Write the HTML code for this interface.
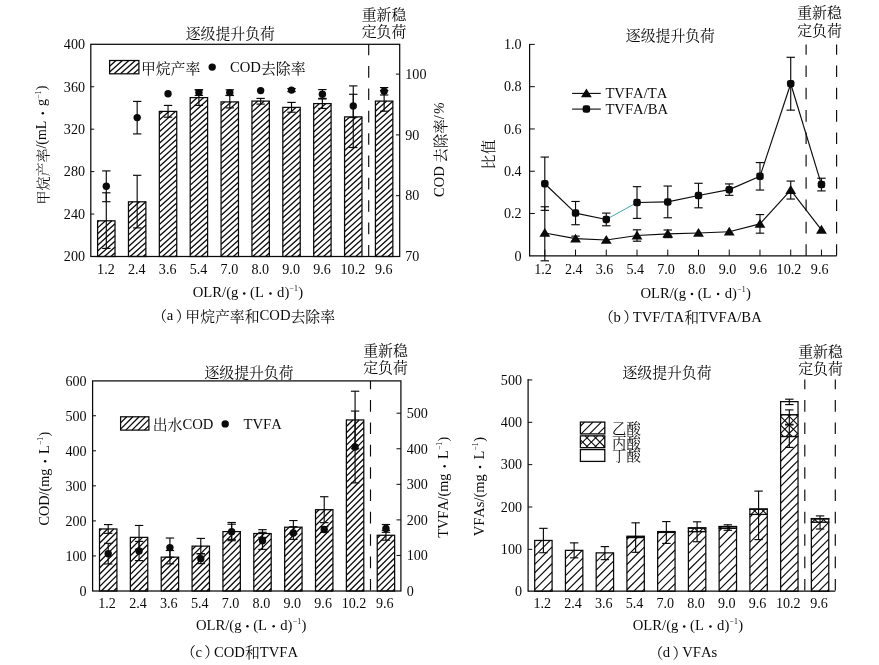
<!DOCTYPE html>
<html><head><meta charset="utf-8"><title>figure</title>
<style>html,body{margin:0;padding:0;background:#fff;overflow:hidden}svg{display:block;opacity:0.9999;will-change:opacity}text{font-family:"Liberation Serif","Noto Serif CJK SC",serif;font-kerning:none;font-variant-ligatures:none;fill:#0a0a0a;stroke:none;white-space:pre}</style>
</head><body>
<svg width="879" height="665" viewBox="0 0 879 665" stroke="#0a0a0a" fill="none" stroke-linecap="butt">
<rect x="97.6" y="220.8" width="17.4" height="35.7" fill="#fff" stroke="none"/>
<path d="M97.6 222.06L99 220.8M97.6 227.86L105.44 220.8M97.6 233.66L111.89 220.8M97.6 239.46L115 223.8M97.6 245.26L115 229.6M97.6 251.06L115 235.4M98 256.5L115 241.2M104.44 256.5L115 247M110.89 256.5L115 252.8" stroke-width="1.3"/>
<rect x="97.6" y="220.8" width="17.4" height="35.7" stroke-width="1.25"/>
<rect x="128.47" y="201.8" width="17.4" height="54.7" fill="#fff" stroke="none"/>
<path d="M128.47 205.88L133 201.8M128.47 211.68L139.44 201.8M128.47 217.48L145.87 201.82M128.47 223.28L145.87 207.62M128.47 229.08L145.87 213.42M128.47 234.88L145.87 219.22M128.47 240.68L145.87 225.02M128.47 246.48L145.87 230.82M128.47 252.28L145.87 236.62M130.22 256.5L145.87 242.42M136.67 256.5L145.87 248.22M143.11 256.5L145.87 254.02" stroke-width="1.3"/>
<rect x="128.47" y="201.8" width="17.4" height="54.7" stroke-width="1.25"/>
<rect x="159.34" y="111.4" width="17.4" height="145.1" fill="#fff" stroke="none"/>
<path d="M159.34 114.29L162.56 111.4M159.34 120.09L169 111.4M159.34 125.89L175.44 111.4M159.34 131.69L176.74 116.03M159.34 137.49L176.74 121.83M159.34 143.29L176.74 127.63M159.34 149.09L176.74 133.43M159.34 154.89L176.74 139.23M159.34 160.69L176.74 145.03M159.34 166.49L176.74 150.83M159.34 172.29L176.74 156.63M159.34 178.09L176.74 162.43M159.34 183.89L176.74 168.23M159.34 189.69L176.74 174.03M159.34 195.49L176.74 179.83M159.34 201.29L176.74 185.63M159.34 207.09L176.74 191.43M159.34 212.89L176.74 197.23M159.34 218.69L176.74 203.03M159.34 224.49L176.74 208.83M159.34 230.29L176.74 214.63M159.34 236.09L176.74 220.43M159.34 241.89L176.74 226.23M159.34 247.69L176.74 232.03M159.34 253.49L176.74 237.83M162.44 256.5L176.74 243.63M168.89 256.5L176.74 249.43M175.33 256.5L176.74 255.23" stroke-width="1.3"/>
<rect x="159.34" y="111.4" width="17.4" height="145.1" stroke-width="1.25"/>
<rect x="190.21" y="97.6" width="17.4" height="158.9" fill="#fff" stroke="none"/>
<path d="M190.21 98.11L190.78 97.6M190.21 103.91L197.22 97.6M190.21 109.71L203.67 97.6M190.21 115.51L207.61 99.85M190.21 121.31L207.61 105.65M190.21 127.11L207.61 111.45M190.21 132.91L207.61 117.25M190.21 138.71L207.61 123.05M190.21 144.51L207.61 128.85M190.21 150.31L207.61 134.65M190.21 156.11L207.61 140.45M190.21 161.91L207.61 146.25M190.21 167.71L207.61 152.05M190.21 173.51L207.61 157.85M190.21 179.31L207.61 163.65M190.21 185.11L207.61 169.45M190.21 190.91L207.61 175.25M190.21 196.71L207.61 181.05M190.21 202.51L207.61 186.85M190.21 208.31L207.61 192.65M190.21 214.11L207.61 198.45M190.21 219.91L207.61 204.25M190.21 225.71L207.61 210.05M190.21 231.51L207.61 215.85M190.21 237.31L207.61 221.65M190.21 243.11L207.61 227.45M190.21 248.91L207.61 233.25M190.21 254.71L207.61 239.05M194.67 256.5L207.61 244.85M201.11 256.5L207.61 250.65" stroke-width="1.3"/>
<rect x="190.21" y="97.6" width="17.4" height="158.9" stroke-width="1.25"/>
<rect x="221.08" y="101.9" width="17.4" height="154.6" fill="#fff" stroke="none"/>
<path d="M221.08 105.13L224.67 101.9M221.08 110.93L231.11 101.9M221.08 116.73L237.56 101.9M221.08 122.53L238.48 106.87M221.08 128.33L238.48 112.67M221.08 134.13L238.48 118.47M221.08 139.93L238.48 124.27M221.08 145.73L238.48 130.07M221.08 151.53L238.48 135.87M221.08 157.33L238.48 141.67M221.08 163.13L238.48 147.47M221.08 168.93L238.48 153.27M221.08 174.73L238.48 159.07M221.08 180.53L238.48 164.87M221.08 186.33L238.48 170.67M221.08 192.13L238.48 176.47M221.08 197.93L238.48 182.27M221.08 203.73L238.48 188.07M221.08 209.53L238.48 193.87M221.08 215.33L238.48 199.67M221.08 221.13L238.48 205.47M221.08 226.93L238.48 211.27M221.08 232.73L238.48 217.07M221.08 238.53L238.48 222.87M221.08 244.33L238.48 228.67M221.08 250.13L238.48 234.47M221.08 255.93L238.48 240.27M226.89 256.5L238.48 246.07M233.33 256.5L238.48 251.87" stroke-width="1.3"/>
<rect x="221.08" y="101.9" width="17.4" height="154.6" stroke-width="1.25"/>
<rect x="251.95" y="101.1" width="17.4" height="155.4" fill="#fff" stroke="none"/>
<path d="M251.95 106.34L257.78 101.1M251.95 112.14L264.22 101.1M251.95 117.94L269.35 102.29M251.95 123.75L269.35 108.09M251.95 129.55L269.35 113.89M251.95 135.34L269.35 119.69M251.95 141.14L269.35 125.49M251.95 146.94L269.35 131.29M251.95 152.75L269.35 137.09M251.95 158.54L269.35 142.88M251.95 164.34L269.35 148.69M251.95 170.14L269.35 154.49M251.95 175.94L269.35 160.29M251.95 181.75L269.35 166.09M251.95 187.54L269.35 171.88M251.95 193.34L269.35 177.69M251.95 199.14L269.35 183.49M251.95 204.94L269.35 189.29M251.95 210.75L269.35 195.09M251.95 216.54L269.35 200.88M251.95 222.35L269.35 206.69M251.95 228.14L269.35 212.49M251.95 233.94L269.35 218.29M251.95 239.75L269.35 224.09M251.95 245.54L269.35 229.88M251.95 251.35L269.35 235.69M252.67 256.5L269.35 241.49M259.11 256.5L269.35 247.29M265.56 256.5L269.35 253.09" stroke-width="1.3"/>
<rect x="251.95" y="101.1" width="17.4" height="155.4" stroke-width="1.25"/>
<rect x="282.82" y="107.4" width="17.4" height="149.1" fill="#fff" stroke="none"/>
<path d="M282.82 107.56L283 107.4M282.82 113.36L289.44 107.4M282.82 119.16L295.89 107.4M282.82 124.96L300.22 109.3M282.82 130.76L300.22 115.1M282.82 136.56L300.22 120.9M282.82 142.36L300.22 126.7M282.82 148.16L300.22 132.5M282.82 153.96L300.22 138.3M282.82 159.76L300.22 144.1M282.82 165.56L300.22 149.9M282.82 171.36L300.22 155.7M282.82 177.16L300.22 161.5M282.82 182.96L300.22 167.3M282.82 188.76L300.22 173.1M282.82 194.56L300.22 178.9M282.82 200.36L300.22 184.7M282.82 206.16L300.22 190.5M282.82 211.96L300.22 196.3M282.82 217.76L300.22 202.1M282.82 223.56L300.22 207.9M282.82 229.36L300.22 213.7M282.82 235.16L300.22 219.5M282.82 240.96L300.22 225.3M282.82 246.76L300.22 231.1M282.82 252.56L300.22 236.9M284.89 256.5L300.22 242.7M291.33 256.5L300.22 248.5M297.78 256.5L300.22 254.3" stroke-width="1.3"/>
<rect x="282.82" y="107.4" width="17.4" height="149.1" stroke-width="1.25"/>
<rect x="313.69" y="103.6" width="17.4" height="152.9" fill="#fff" stroke="none"/>
<path d="M313.69 108.78L319.44 103.6M313.69 114.58L325.89 103.6M313.69 120.38L331.09 104.72M313.69 126.18L331.09 110.52M313.69 131.98L331.09 116.32M313.69 137.78L331.09 122.12M313.69 143.58L331.09 127.92M313.69 149.38L331.09 133.72M313.69 155.18L331.09 139.52M313.69 160.98L331.09 145.32M313.69 166.78L331.09 151.12M313.69 172.58L331.09 156.92M313.69 178.38L331.09 162.72M313.69 184.18L331.09 168.52M313.69 189.98L331.09 174.32M313.69 195.78L331.09 180.12M313.69 201.58L331.09 185.92M313.69 207.38L331.09 191.72M313.69 213.18L331.09 197.52M313.69 218.98L331.09 203.32M313.69 224.78L331.09 209.12M313.69 230.58L331.09 214.92M313.69 236.38L331.09 220.72M313.69 242.18L331.09 226.52M313.69 247.98L331.09 232.32M313.69 253.78L331.09 238.12M317.11 256.5L331.09 243.92M323.56 256.5L331.09 249.72M330 256.5L331.09 255.52" stroke-width="1.3"/>
<rect x="313.69" y="103.6" width="17.4" height="152.9" stroke-width="1.25"/>
<rect x="344.56" y="116.9" width="17.4" height="139.6" fill="#fff" stroke="none"/>
<path d="M344.56 121.6L349.78 116.9M344.56 127.4L356.22 116.9M344.56 133.2L361.96 117.54M344.56 139L361.96 123.34M344.56 144.8L361.96 129.14M344.56 150.6L361.96 134.94M344.56 156.4L361.96 140.74M344.56 162.2L361.96 146.54M344.56 168L361.96 152.34M344.56 173.8L361.96 158.14M344.56 179.6L361.96 163.94M344.56 185.4L361.96 169.74M344.56 191.2L361.96 175.54M344.56 197L361.96 181.34M344.56 202.8L361.96 187.14M344.56 208.6L361.96 192.94M344.56 214.4L361.96 198.74M344.56 220.2L361.96 204.54M344.56 226L361.96 210.34M344.56 231.8L361.96 216.14M344.56 237.6L361.96 221.94M344.56 243.4L361.96 227.74M344.56 249.2L361.96 233.54M344.56 255L361.96 239.34M349.33 256.5L361.96 245.14M355.78 256.5L361.96 250.94" stroke-width="1.3"/>
<rect x="344.56" y="116.9" width="17.4" height="139.6" stroke-width="1.25"/>
<rect x="375.43" y="101.1" width="17.4" height="155.4" fill="#fff" stroke="none"/>
<path d="M375.43 105.41L380.22 101.1M375.43 111.21L386.67 101.1M375.43 117.01L392.83 101.35M375.43 122.81L392.83 107.15M375.43 128.61L392.83 112.95M375.43 134.41L392.83 118.75M375.43 140.21L392.83 124.55M375.43 146.01L392.83 130.35M375.43 151.81L392.83 136.15M375.43 157.61L392.83 141.95M375.43 163.41L392.83 147.75M375.43 169.21L392.83 153.55M375.43 175.01L392.83 159.35M375.43 180.81L392.83 165.15M375.43 186.61L392.83 170.95M375.43 192.41L392.83 176.75M375.43 198.21L392.83 182.55M375.43 204.01L392.83 188.35M375.43 209.81L392.83 194.15M375.43 215.61L392.83 199.95M375.43 221.41L392.83 205.75M375.43 227.21L392.83 211.55M375.43 233.01L392.83 217.35M375.43 238.81L392.83 223.15M375.43 244.61L392.83 228.95M375.43 250.41L392.83 234.75M375.43 256.21L392.83 240.55M381.56 256.5L392.83 246.35M388 256.5L392.83 252.15" stroke-width="1.3"/>
<rect x="375.43" y="101.1" width="17.4" height="155.4" stroke-width="1.25"/>
<line x1="106.3" y1="192.8" x2="106.3" y2="248.4" stroke-width="1.15"/>
<line x1="102.1" y1="192.8" x2="110.5" y2="192.8" stroke-width="1.15"/>
<line x1="102.1" y1="248.4" x2="110.5" y2="248.4" stroke-width="1.15"/>
<line x1="137.17" y1="175.3" x2="137.17" y2="227.9" stroke-width="1.15"/>
<line x1="132.97" y1="175.3" x2="141.37" y2="175.3" stroke-width="1.15"/>
<line x1="132.97" y1="227.9" x2="141.37" y2="227.9" stroke-width="1.15"/>
<line x1="168.04" y1="105.4" x2="168.04" y2="117.2" stroke-width="1.15"/>
<line x1="163.84" y1="105.4" x2="172.24" y2="105.4" stroke-width="1.15"/>
<line x1="163.84" y1="117.2" x2="172.24" y2="117.2" stroke-width="1.15"/>
<line x1="198.91" y1="89.9" x2="198.91" y2="105.4" stroke-width="1.15"/>
<line x1="194.71" y1="89.9" x2="203.11" y2="89.9" stroke-width="1.15"/>
<line x1="194.71" y1="105.4" x2="203.11" y2="105.4" stroke-width="1.15"/>
<line x1="229.78" y1="95.5" x2="229.78" y2="107.9" stroke-width="1.15"/>
<line x1="225.58" y1="95.5" x2="233.98" y2="95.5" stroke-width="1.15"/>
<line x1="225.58" y1="107.9" x2="233.98" y2="107.9" stroke-width="1.15"/>
<line x1="260.65" y1="98.4" x2="260.65" y2="104.1" stroke-width="1.15"/>
<line x1="256.45" y1="98.4" x2="264.85" y2="98.4" stroke-width="1.15"/>
<line x1="256.45" y1="104.1" x2="264.85" y2="104.1" stroke-width="1.15"/>
<line x1="291.52" y1="102.4" x2="291.52" y2="112.2" stroke-width="1.15"/>
<line x1="287.32" y1="102.4" x2="295.72" y2="102.4" stroke-width="1.15"/>
<line x1="287.32" y1="112.2" x2="295.72" y2="112.2" stroke-width="1.15"/>
<line x1="322.39" y1="98.4" x2="322.39" y2="108.4" stroke-width="1.15"/>
<line x1="318.19" y1="98.4" x2="326.59" y2="98.4" stroke-width="1.15"/>
<line x1="318.19" y1="108.4" x2="326.59" y2="108.4" stroke-width="1.15"/>
<line x1="353.26" y1="85.9" x2="353.26" y2="147.5" stroke-width="1.15"/>
<line x1="349.06" y1="85.9" x2="357.46" y2="85.9" stroke-width="1.15"/>
<line x1="349.06" y1="147.5" x2="357.46" y2="147.5" stroke-width="1.15"/>
<line x1="384.13" y1="90.6" x2="384.13" y2="111.2" stroke-width="1.15"/>
<line x1="379.93" y1="90.6" x2="388.33" y2="90.6" stroke-width="1.15"/>
<line x1="379.93" y1="111.2" x2="388.33" y2="111.2" stroke-width="1.15"/>
<line x1="106.3" y1="170.9" x2="106.3" y2="201.7" stroke-width="1.15"/>
<line x1="102.1" y1="170.9" x2="110.5" y2="170.9" stroke-width="1.15"/>
<line x1="102.1" y1="201.7" x2="110.5" y2="201.7" stroke-width="1.15"/>
<circle cx="106.3" cy="186.3" r="3.7" fill="#0a0a0a" stroke="none"/>
<line x1="137.17" y1="101.4" x2="137.17" y2="133.9" stroke-width="1.15"/>
<line x1="132.97" y1="101.4" x2="141.37" y2="101.4" stroke-width="1.15"/>
<line x1="132.97" y1="133.9" x2="141.37" y2="133.9" stroke-width="1.15"/>
<circle cx="137.17" cy="117.6" r="3.7" fill="#0a0a0a" stroke="none"/>
<circle cx="168.04" cy="93.8" r="3.7" fill="#0a0a0a" stroke="none"/>
<line x1="198.91" y1="89.8" x2="198.91" y2="95.4" stroke-width="1.15"/>
<line x1="194.71" y1="89.8" x2="203.11" y2="89.8" stroke-width="1.15"/>
<line x1="194.71" y1="95.4" x2="203.11" y2="95.4" stroke-width="1.15"/>
<circle cx="198.91" cy="92.6" r="3.7" fill="#0a0a0a" stroke="none"/>
<line x1="229.78" y1="89.8" x2="229.78" y2="95.4" stroke-width="1.15"/>
<line x1="225.58" y1="89.8" x2="233.98" y2="89.8" stroke-width="1.15"/>
<line x1="225.58" y1="95.4" x2="233.98" y2="95.4" stroke-width="1.15"/>
<circle cx="229.78" cy="92.6" r="3.7" fill="#0a0a0a" stroke="none"/>
<circle cx="260.65" cy="90.6" r="3.7" fill="#0a0a0a" stroke="none"/>
<line x1="291.52" y1="88.6" x2="291.52" y2="91.6" stroke-width="1.15"/>
<line x1="287.32" y1="88.6" x2="295.72" y2="88.6" stroke-width="1.15"/>
<line x1="287.32" y1="91.6" x2="295.72" y2="91.6" stroke-width="1.15"/>
<circle cx="291.52" cy="90.1" r="3.7" fill="#0a0a0a" stroke="none"/>
<line x1="322.39" y1="89.6" x2="322.39" y2="99" stroke-width="1.15"/>
<line x1="318.19" y1="89.6" x2="326.59" y2="89.6" stroke-width="1.15"/>
<line x1="318.19" y1="99" x2="326.59" y2="99" stroke-width="1.15"/>
<circle cx="322.39" cy="94.3" r="3.7" fill="#0a0a0a" stroke="none"/>
<line x1="353.26" y1="94.3" x2="353.26" y2="117.5" stroke-width="1.15"/>
<line x1="349.06" y1="94.3" x2="357.46" y2="94.3" stroke-width="1.15"/>
<line x1="349.06" y1="117.5" x2="357.46" y2="117.5" stroke-width="1.15"/>
<circle cx="353.26" cy="105.9" r="3.7" fill="#0a0a0a" stroke="none"/>
<line x1="384.13" y1="87.6" x2="384.13" y2="95" stroke-width="1.15"/>
<line x1="379.93" y1="87.6" x2="388.33" y2="87.6" stroke-width="1.15"/>
<line x1="379.93" y1="95" x2="388.33" y2="95" stroke-width="1.15"/>
<circle cx="384.13" cy="91.3" r="3.7" fill="#0a0a0a" stroke="none"/>
<line x1="368.7" y1="256.5" x2="368.7" y2="44.3" stroke-width="1.15" stroke-dasharray="11.6 10.75" stroke-dashoffset="0"/>
<rect x="90.8" y="44.3" width="308.9" height="212.2" fill="none" stroke-width="1.25"/>
<g transform="translate(85,261.3)">
<text x="-21.15" y="0" font-size="14.1">200</text>
</g>
<line x1="90.8" y1="214.06" x2="94.2" y2="214.06" stroke-width="1"/>
<g transform="translate(85,218.86)">
<text x="-21.15" y="0" font-size="14.1">240</text>
</g>
<line x1="90.8" y1="171.62" x2="94.2" y2="171.62" stroke-width="1"/>
<g transform="translate(85,176.42)">
<text x="-21.15" y="0" font-size="14.1">280</text>
</g>
<line x1="90.8" y1="129.18" x2="94.2" y2="129.18" stroke-width="1"/>
<g transform="translate(85,133.98)">
<text x="-21.15" y="0" font-size="14.1">320</text>
</g>
<line x1="90.8" y1="86.74" x2="94.2" y2="86.74" stroke-width="1"/>
<g transform="translate(85,91.54)">
<text x="-21.15" y="0" font-size="14.1">360</text>
</g>
<g transform="translate(85,49.1)">
<text x="-21.15" y="0" font-size="14.1">400</text>
</g>
<g transform="translate(405.3,261.2)">
<text x="0" y="0" font-size="14.1">70</text>
</g>
<line x1="395.9" y1="195.7" x2="399.7" y2="195.7" stroke-width="1"/>
<g transform="translate(405.3,200.4)">
<text x="0" y="0" font-size="14.1">80</text>
</g>
<line x1="395.9" y1="134.9" x2="399.7" y2="134.9" stroke-width="1"/>
<g transform="translate(405.3,139.6)">
<text x="0" y="0" font-size="14.1">90</text>
</g>
<line x1="395.9" y1="74.1" x2="399.7" y2="74.1" stroke-width="1"/>
<g transform="translate(405.3,78.8)">
<text x="0" y="0" font-size="14.1">100</text>
</g>
<g transform="translate(105.9,274)">
<text x="-8.81" y="0" font-size="14.1">1.2</text>
</g>
<g transform="translate(136.77,274)">
<text x="-8.81" y="0" font-size="14.1">2.4</text>
</g>
<g transform="translate(167.64,274)">
<text x="-8.81" y="0" font-size="14.1">3.6</text>
</g>
<g transform="translate(198.51,274)">
<text x="-8.81" y="0" font-size="14.1">5.4</text>
</g>
<g transform="translate(229.38,274)">
<text x="-8.81" y="0" font-size="14.1">7.0</text>
</g>
<g transform="translate(260.25,274)">
<text x="-8.81" y="0" font-size="14.1">8.0</text>
</g>
<g transform="translate(291.12,274)">
<text x="-8.81" y="0" font-size="14.1">9.0</text>
</g>
<g transform="translate(321.99,274)">
<text x="-8.81" y="0" font-size="14.1">9.6</text>
</g>
<g transform="translate(352.86,274)">
<text x="-12.34" y="0" font-size="14.1">10.2</text>
</g>
<g transform="translate(383.73,274)">
<text x="-8.81" y="0" font-size="14.1">9.6</text>
</g>
<g transform="translate(248,297)">
<text x="-55.23" y="0" font-size="14.67">OLR/(g</text>
<circle cx="-3.79" cy="-3.45" r="1.25" fill="#0a0a0a" stroke="none"/>
<text x="2.01" y="0" font-size="14.67">(L</text>
<circle cx="22.45" cy="-3.45" r="1.25" fill="#0a0a0a" stroke="none"/>
<text x="29.05" y="0" font-size="14.67">d)</text>
<text x="41.57" y="-5.87" font-size="7.78">−1</text>
<text x="50.34" y="0" font-size="14.67">)</text>
</g>
<g transform="translate(152.3,320.4)">
<text x="0" y="1.49" font-size="14.85">（</text>
<text x="14.45" y="0" font-size="14.67">a</text>
<text x="23.36" y="1.49" font-size="14.85">）</text>
<text x="33.01" y="1.49" font-size="14.85">甲烷产率和</text>
<text x="107.26" y="0" font-size="14.67">COD</text>
<text x="138.23" y="1.49" font-size="14.85">去除率</text>
</g>
<g transform="translate(230.3,37.4)">
<text x="-44.55" y="1.49" font-size="14.85">逐级提升负荷</text>
</g>
<g transform="translate(384,18.2)">
<text x="-22.27" y="1.49" font-size="14.85">重新稳</text>
</g>
<g transform="translate(384,35)">
<text x="-22.27" y="1.49" font-size="14.85">定负荷</text>
</g>
<rect x="109.6" y="60.5" width="29.3" height="13.3" fill="#fff" stroke="none"/>
<path d="M109.6 66.26L116 60.5M109.6 72.06L122.44 60.5M114.11 73.8L128.89 60.5M120.56 73.8L135.33 60.5M127 73.8L138.9 63.09M133.44 73.8L138.9 68.89" stroke-width="1.3"/>
<rect x="109.6" y="60.5" width="29.3" height="13.3" stroke-width="1.25"/>
<g transform="translate(140.9,72)">
<text x="0" y="1.49" font-size="14.85">甲烷产率</text>
</g>
<circle cx="212.2" cy="67.1" r="3.7" fill="#0a0a0a" stroke="none"/>
<g transform="translate(230,72)">
<text x="0" y="0" font-size="14.67">COD</text>
<text x="30.97" y="1.49" font-size="14.85">去除率</text>
</g>
<g transform="translate(46.1,145.1) rotate(-90)">
<text x="-59.47" y="1.4" font-size="14">甲烷产率</text>
<text x="-3.47" y="0" font-size="14">/(mL</text>
<circle cx="31.82" cy="-3.29" r="1.25" fill="#0a0a0a" stroke="none"/>
<text x="39.12" y="0" font-size="14">g</text>
<text x="46.42" y="-5.6" font-size="7.42">−1</text>
<text x="54.81" y="0" font-size="14">)</text>
</g>
<g transform="translate(444.3,149.6) rotate(-90)">
<text x="-47.32" y="0" font-size="14.5">COD </text>
<text x="-13.08" y="1.45" font-size="14.5">去除率</text>
<text x="30.42" y="0" font-size="14.5">/</text>
<text x="35.24" y="0" font-size="14.5" font-style="italic">%</text>
</g>
<line x1="544.8" y1="183.71" x2="575.54" y2="213.1" stroke-width="1.15"/>
<line x1="575.54" y1="213.1" x2="606.28" y2="219.44" stroke-width="1.15"/>
<line x1="606.28" y1="219.44" x2="637.02" y2="202.53" stroke-width="0.95" stroke="#38a5a3"/>
<line x1="637.02" y1="202.53" x2="667.76" y2="201.89" stroke-width="1.15"/>
<line x1="667.76" y1="201.89" x2="698.5" y2="195.55" stroke-width="1.15"/>
<line x1="698.5" y1="195.55" x2="729.24" y2="189.63" stroke-width="1.15"/>
<line x1="729.24" y1="189.63" x2="759.98" y2="176.31" stroke-width="1.15"/>
<line x1="759.98" y1="176.31" x2="790.72" y2="83.72" stroke-width="1.15"/>
<line x1="790.72" y1="83.72" x2="821.46" y2="184.56" stroke-width="1.15"/>
<line x1="544.8" y1="232.97" x2="575.54" y2="238.68" stroke-width="1.15"/>
<line x1="575.54" y1="238.68" x2="606.28" y2="239.95" stroke-width="1.15"/>
<line x1="606.28" y1="239.95" x2="637.02" y2="235.51" stroke-width="1.15"/>
<line x1="637.02" y1="235.51" x2="667.76" y2="233.81" stroke-width="1.15"/>
<line x1="667.76" y1="233.81" x2="698.5" y2="232.97" stroke-width="1.15"/>
<line x1="698.5" y1="232.97" x2="729.24" y2="231.7" stroke-width="1.15"/>
<line x1="729.24" y1="231.7" x2="759.98" y2="223.88" stroke-width="1.15"/>
<line x1="759.98" y1="223.88" x2="790.72" y2="190.05" stroke-width="1.15"/>
<line x1="790.72" y1="190.05" x2="821.46" y2="229.8" stroke-width="1.15"/>
<line x1="544.8" y1="157.08" x2="544.8" y2="210.35" stroke-width="1.15"/>
<line x1="540.6" y1="157.08" x2="549" y2="157.08" stroke-width="1.15"/>
<line x1="540.6" y1="210.35" x2="549" y2="210.35" stroke-width="1.15"/>
<line x1="544.8" y1="206.76" x2="544.8" y2="260.8" stroke-width="1.15"/>
<line x1="540.6" y1="206.76" x2="549" y2="206.76" stroke-width="1.15"/>
<line x1="540.6" y1="260.8" x2="549" y2="260.8" stroke-width="1.15"/>
<line x1="575.54" y1="201.47" x2="575.54" y2="224.72" stroke-width="1.15"/>
<line x1="571.34" y1="201.47" x2="579.74" y2="201.47" stroke-width="1.15"/>
<line x1="571.34" y1="224.72" x2="579.74" y2="224.72" stroke-width="1.15"/>
<line x1="575.54" y1="236.14" x2="575.54" y2="241.21" stroke-width="1.15"/>
<line x1="571.34" y1="236.14" x2="579.74" y2="236.14" stroke-width="1.15"/>
<line x1="571.34" y1="241.21" x2="579.74" y2="241.21" stroke-width="1.15"/>
<line x1="606.28" y1="213.1" x2="606.28" y2="225.78" stroke-width="1.15"/>
<line x1="602.08" y1="213.1" x2="610.48" y2="213.1" stroke-width="1.15"/>
<line x1="602.08" y1="225.78" x2="610.48" y2="225.78" stroke-width="1.15"/>
<line x1="637.02" y1="186.67" x2="637.02" y2="218.38" stroke-width="1.15"/>
<line x1="632.82" y1="186.67" x2="641.22" y2="186.67" stroke-width="1.15"/>
<line x1="632.82" y1="218.38" x2="641.22" y2="218.38" stroke-width="1.15"/>
<line x1="637.02" y1="229.8" x2="637.02" y2="241.21" stroke-width="1.15"/>
<line x1="632.82" y1="229.8" x2="641.22" y2="229.8" stroke-width="1.15"/>
<line x1="632.82" y1="241.21" x2="641.22" y2="241.21" stroke-width="1.15"/>
<line x1="667.76" y1="186.04" x2="667.76" y2="217.75" stroke-width="1.15"/>
<line x1="663.56" y1="186.04" x2="671.96" y2="186.04" stroke-width="1.15"/>
<line x1="663.56" y1="217.75" x2="671.96" y2="217.75" stroke-width="1.15"/>
<line x1="667.76" y1="230.01" x2="667.76" y2="237.62" stroke-width="1.15"/>
<line x1="663.56" y1="230.01" x2="671.96" y2="230.01" stroke-width="1.15"/>
<line x1="663.56" y1="237.62" x2="671.96" y2="237.62" stroke-width="1.15"/>
<line x1="698.5" y1="183.29" x2="698.5" y2="207.81" stroke-width="1.15"/>
<line x1="694.3" y1="183.29" x2="702.7" y2="183.29" stroke-width="1.15"/>
<line x1="694.3" y1="207.81" x2="702.7" y2="207.81" stroke-width="1.15"/>
<line x1="729.24" y1="183.92" x2="729.24" y2="195.34" stroke-width="1.15"/>
<line x1="725.04" y1="183.92" x2="733.44" y2="183.92" stroke-width="1.15"/>
<line x1="725.04" y1="195.34" x2="733.44" y2="195.34" stroke-width="1.15"/>
<line x1="759.98" y1="162.57" x2="759.98" y2="190.05" stroke-width="1.15"/>
<line x1="755.78" y1="162.57" x2="764.18" y2="162.57" stroke-width="1.15"/>
<line x1="755.78" y1="190.05" x2="764.18" y2="190.05" stroke-width="1.15"/>
<line x1="759.98" y1="214.58" x2="759.98" y2="233.18" stroke-width="1.15"/>
<line x1="755.78" y1="214.58" x2="764.18" y2="214.58" stroke-width="1.15"/>
<line x1="755.78" y1="233.18" x2="764.18" y2="233.18" stroke-width="1.15"/>
<line x1="790.72" y1="57.3" x2="790.72" y2="110.15" stroke-width="1.15"/>
<line x1="786.52" y1="57.3" x2="794.92" y2="57.3" stroke-width="1.15"/>
<line x1="786.52" y1="110.15" x2="794.92" y2="110.15" stroke-width="1.15"/>
<line x1="790.72" y1="181.07" x2="790.72" y2="199.04" stroke-width="1.15"/>
<line x1="786.52" y1="181.07" x2="794.92" y2="181.07" stroke-width="1.15"/>
<line x1="786.52" y1="199.04" x2="794.92" y2="199.04" stroke-width="1.15"/>
<line x1="821.46" y1="178.22" x2="821.46" y2="190.9" stroke-width="1.15"/>
<line x1="817.26" y1="178.22" x2="825.66" y2="178.22" stroke-width="1.15"/>
<line x1="817.26" y1="190.9" x2="825.66" y2="190.9" stroke-width="1.15"/>
<rect x="541.05" y="179.96" width="7.5" height="7.5" rx="2.4" fill="#0a0a0a" stroke="none"/>
<path d="M544.8 227.97 L550.2 236.87 L539.4 236.87 Z" fill="#0a0a0a" stroke="none"/>
<rect x="571.79" y="209.35" width="7.5" height="7.5" rx="2.4" fill="#0a0a0a" stroke="none"/>
<path d="M575.54 233.68 L580.94 242.58 L570.14 242.58 Z" fill="#0a0a0a" stroke="none"/>
<rect x="602.53" y="215.69" width="7.5" height="7.5" rx="2.4" fill="#0a0a0a" stroke="none"/>
<path d="M606.28 234.95 L611.68 243.85 L600.88 243.85 Z" fill="#0a0a0a" stroke="none"/>
<rect x="633.27" y="198.78" width="7.5" height="7.5" rx="2.4" fill="#0a0a0a" stroke="none"/>
<path d="M637.02 230.51 L642.42 239.41 L631.62 239.41 Z" fill="#0a0a0a" stroke="none"/>
<rect x="664.01" y="198.14" width="7.5" height="7.5" rx="2.4" fill="#0a0a0a" stroke="none"/>
<path d="M667.76 228.81 L673.16 237.71 L662.36 237.71 Z" fill="#0a0a0a" stroke="none"/>
<rect x="694.75" y="191.8" width="7.5" height="7.5" rx="2.4" fill="#0a0a0a" stroke="none"/>
<path d="M698.5 227.97 L703.9 236.87 L693.1 236.87 Z" fill="#0a0a0a" stroke="none"/>
<rect x="725.49" y="185.88" width="7.5" height="7.5" rx="2.4" fill="#0a0a0a" stroke="none"/>
<path d="M729.24 226.7 L734.64 235.6 L723.84 235.6 Z" fill="#0a0a0a" stroke="none"/>
<rect x="756.23" y="172.56" width="7.5" height="7.5" rx="2.4" fill="#0a0a0a" stroke="none"/>
<path d="M759.98 218.88 L765.38 227.78 L754.58 227.78 Z" fill="#0a0a0a" stroke="none"/>
<rect x="786.97" y="79.97" width="7.5" height="7.5" rx="2.4" fill="#0a0a0a" stroke="none"/>
<path d="M790.72 185.05 L796.12 193.95 L785.32 193.95 Z" fill="#0a0a0a" stroke="none"/>
<rect x="817.71" y="180.81" width="7.5" height="7.5" rx="2.4" fill="#0a0a0a" stroke="none"/>
<path d="M821.46 224.8 L826.86 233.7 L816.06 233.7 Z" fill="#0a0a0a" stroke="none"/>
<line x1="806.1" y1="255.8" x2="806.1" y2="44.5" stroke-width="1.15" stroke-dasharray="11.6 10.75" stroke-dashoffset="0"/>
<line x1="836.6" y1="255.8" x2="836.6" y2="44.5" stroke-width="1.15" stroke-dasharray="11.6 10.75" stroke-dashoffset="0"/>
<line x1="529.6" y1="43.88" x2="529.6" y2="256.43" stroke-width="1.25"/>
<line x1="529.6" y1="255.8" x2="836.6" y2="255.8" stroke-width="1.25"/>
<g transform="translate(521.6,260.6)">
<text x="-7.05" y="0" font-size="14.1">0</text>
</g>
<line x1="529.6" y1="213.52" x2="534.8" y2="213.52" stroke-width="1"/>
<g transform="translate(521.6,218.32)">
<text x="-17.62" y="0" font-size="14.1">0.2</text>
</g>
<line x1="529.6" y1="171.24" x2="534.8" y2="171.24" stroke-width="1"/>
<g transform="translate(521.6,176.04)">
<text x="-17.62" y="0" font-size="14.1">0.4</text>
</g>
<line x1="529.6" y1="128.96" x2="534.8" y2="128.96" stroke-width="1"/>
<g transform="translate(521.6,133.76)">
<text x="-17.62" y="0" font-size="14.1">0.6</text>
</g>
<line x1="529.6" y1="86.68" x2="534.8" y2="86.68" stroke-width="1"/>
<g transform="translate(521.6,91.48)">
<text x="-17.62" y="0" font-size="14.1">0.8</text>
</g>
<line x1="529.6" y1="44.4" x2="534.8" y2="44.4" stroke-width="1"/>
<g transform="translate(521.6,49.2)">
<text x="-17.62" y="0" font-size="14.1">1.0</text>
</g>
<line x1="544.8" y1="255.8" x2="544.8" y2="249.6" stroke-width="1"/>
<g transform="translate(543,274.2)">
<text x="-8.81" y="0" font-size="14.1">1.2</text>
</g>
<line x1="575.54" y1="255.8" x2="575.54" y2="249.6" stroke-width="1"/>
<g transform="translate(573.74,274.2)">
<text x="-8.81" y="0" font-size="14.1">2.4</text>
</g>
<line x1="606.28" y1="255.8" x2="606.28" y2="249.6" stroke-width="1"/>
<g transform="translate(604.48,274.2)">
<text x="-8.81" y="0" font-size="14.1">3.6</text>
</g>
<line x1="637.02" y1="255.8" x2="637.02" y2="249.6" stroke-width="1"/>
<g transform="translate(635.22,274.2)">
<text x="-8.81" y="0" font-size="14.1">5.4</text>
</g>
<line x1="667.76" y1="255.8" x2="667.76" y2="249.6" stroke-width="1"/>
<g transform="translate(665.96,274.2)">
<text x="-8.81" y="0" font-size="14.1">7.0</text>
</g>
<line x1="698.5" y1="255.8" x2="698.5" y2="249.6" stroke-width="1"/>
<g transform="translate(696.7,274.2)">
<text x="-8.81" y="0" font-size="14.1">8.0</text>
</g>
<line x1="729.24" y1="255.8" x2="729.24" y2="249.6" stroke-width="1"/>
<g transform="translate(727.44,274.2)">
<text x="-8.81" y="0" font-size="14.1">9.0</text>
</g>
<line x1="759.98" y1="255.8" x2="759.98" y2="249.6" stroke-width="1"/>
<g transform="translate(758.18,274.2)">
<text x="-8.81" y="0" font-size="14.1">9.6</text>
</g>
<line x1="790.72" y1="255.8" x2="790.72" y2="249.6" stroke-width="1"/>
<g transform="translate(788.92,274.2)">
<text x="-12.34" y="0" font-size="14.1">10.2</text>
</g>
<line x1="821.46" y1="255.8" x2="821.46" y2="249.6" stroke-width="1"/>
<g transform="translate(819.66,274.2)">
<text x="-8.81" y="0" font-size="14.1">9.6</text>
</g>
<g transform="translate(695.7,297.5)">
<text x="-55.23" y="0" font-size="14.67">OLR/(g</text>
<circle cx="-3.79" cy="-3.45" r="1.25" fill="#0a0a0a" stroke="none"/>
<text x="2.01" y="0" font-size="14.67">(L</text>
<circle cx="22.45" cy="-3.45" r="1.25" fill="#0a0a0a" stroke="none"/>
<text x="29.05" y="0" font-size="14.67">d)</text>
<text x="41.57" y="-5.87" font-size="7.78">−1</text>
<text x="50.34" y="0" font-size="14.67">)</text>
</g>
<g transform="translate(599,321.6)">
<text x="0" y="1.49" font-size="14.85">（</text>
<text x="14.45" y="0" font-size="14.67">b</text>
<text x="24.18" y="1.49" font-size="14.85">）</text>
<text x="33.83" y="0" font-size="14.67">TVF/TA</text>
<text x="85.18" y="1.49" font-size="14.85">和</text>
<text x="100.03" y="0" font-size="14.67">TVFA/BA</text>
</g>
<g transform="translate(670.4,39.2)">
<text x="-44.55" y="1.49" font-size="14.85">逐级提升负荷</text>
</g>
<g transform="translate(819.5,16.5)">
<text x="-22.27" y="1.49" font-size="14.85">重新稳</text>
</g>
<g transform="translate(819.5,34.2)">
<text x="-22.27" y="1.49" font-size="14.85">定负荷</text>
</g>
<line x1="572.1" y1="93.4" x2="600.8" y2="93.4" stroke-width="1.1"/>
<path d="M586.4 88.4 L591.8 97.3 L581 97.3 Z" fill="#0a0a0a" stroke="none"/>
<g transform="translate(605.4,98)">
<text x="0" y="0" font-size="14.67">TVFA/TA</text>
</g>
<line x1="572.1" y1="109.1" x2="600.8" y2="109.1" stroke-width="1.1"/>
<rect x="582.65" y="105.35" width="7.5" height="7.5" rx="2.4" fill="#0a0a0a" stroke="none"/>
<g transform="translate(605.4,113.7)">
<text x="0" y="0" font-size="14.67">TVFA/BA</text>
</g>
<g transform="translate(492.8,154.6) rotate(-90)">
<text x="-14.9" y="1.49" font-size="14.9">比值</text>
</g>
<rect x="99.5" y="528.96" width="17.4" height="62.04" fill="#fff" stroke="none"/>
<path d="M99.5 530.8L101.34 528.96M99.5 537L107.54 528.96M99.5 543.2L113.74 528.96M99.5 549.4L116.9 532M99.5 555.6L116.9 538.2M99.5 561.8L116.9 544.4M99.5 568L116.9 550.6M99.5 574.2L116.9 556.8M99.5 580.4L116.9 563M99.5 586.6L116.9 569.2M101.3 591L116.9 575.4M107.5 591L116.9 581.6M113.7 591L116.9 587.8" stroke-width="1.3"/>
<rect x="99.5" y="528.96" width="17.4" height="62.04" stroke-width="1.25"/>
<rect x="130.36" y="537.37" width="17.4" height="53.63" fill="#fff" stroke="none"/>
<path d="M130.36 543.34L136.33 537.37M130.36 549.54L142.53 537.37M130.36 555.74L147.76 538.34M130.36 561.94L147.76 544.54M130.36 568.14L147.76 550.74M130.36 574.34L147.76 556.94M130.36 580.54L147.76 563.14M130.36 586.74L147.76 569.34M132.3 591L147.76 575.54M138.5 591L147.76 581.74M144.7 591L147.76 587.94" stroke-width="1.3"/>
<rect x="130.36" y="537.37" width="17.4" height="53.63" stroke-width="1.25"/>
<rect x="161.22" y="557.18" width="17.4" height="33.82" fill="#fff" stroke="none"/>
<path d="M161.22 562.08L166.12 557.18M161.22 568.28L172.32 557.18M161.22 574.48L178.52 557.18M161.22 580.68L178.62 563.28M161.22 586.88L178.62 569.48M163.3 591L178.62 575.68M169.5 591L178.62 581.88M175.7 591L178.62 588.08" stroke-width="1.3"/>
<rect x="161.22" y="557.18" width="17.4" height="33.82" stroke-width="1.25"/>
<rect x="192.08" y="546.14" width="17.4" height="44.86" fill="#fff" stroke="none"/>
<path d="M192.08 549.82L195.76 546.14M192.08 556.02L201.96 546.14M192.08 562.22L208.16 546.14M192.08 568.42L209.48 551.02M192.08 574.62L209.48 557.22M192.08 580.82L209.48 563.42M192.08 587.02L209.48 569.62M194.3 591L209.48 575.82M200.5 591L209.48 582.02M206.7 591L209.48 588.22" stroke-width="1.3"/>
<rect x="192.08" y="546.14" width="17.4" height="44.86" stroke-width="1.25"/>
<rect x="222.94" y="531.59" width="17.4" height="59.41" fill="#fff" stroke="none"/>
<path d="M222.94 537.56L228.91 531.59M222.94 543.76L235.11 531.59M222.94 549.96L240.34 532.56M222.94 556.16L240.34 538.76M222.94 562.36L240.34 544.96M222.94 568.56L240.34 551.16M222.94 574.76L240.34 557.36M222.94 580.96L240.34 563.56M222.94 587.16L240.34 569.76M225.3 591L240.34 575.96M231.5 591L240.34 582.16M237.7 591L240.34 588.36" stroke-width="1.3"/>
<rect x="222.94" y="531.59" width="17.4" height="59.41" stroke-width="1.25"/>
<rect x="253.8" y="533.52" width="17.4" height="57.48" fill="#fff" stroke="none"/>
<path d="M253.8 537.7L257.98 533.52M253.8 543.9L264.18 533.52M253.8 550.1L270.38 533.52M253.8 556.3L271.2 538.9M253.8 562.5L271.2 545.1M253.8 568.7L271.2 551.3M253.8 574.9L271.2 557.5M253.8 581.1L271.2 563.7M253.8 587.3L271.2 569.9M256.3 591L271.2 576.1M262.5 591L271.2 582.3M268.7 591L271.2 588.5" stroke-width="1.3"/>
<rect x="253.8" y="533.52" width="17.4" height="57.48" stroke-width="1.25"/>
<rect x="284.66" y="527.21" width="17.4" height="63.79" fill="#fff" stroke="none"/>
<path d="M284.66 531.64L289.09 527.21M284.66 537.84L295.29 527.21M284.66 544.04L301.49 527.21M284.66 550.24L302.06 532.84M284.66 556.44L302.06 539.04M284.66 562.64L302.06 545.24M284.66 568.84L302.06 551.44M284.66 575.04L302.06 557.64M284.66 581.24L302.06 563.84M284.66 587.44L302.06 570.04M287.3 591L302.06 576.24M293.5 591L302.06 582.44M299.7 591L302.06 588.64" stroke-width="1.3"/>
<rect x="284.66" y="527.21" width="17.4" height="63.79" stroke-width="1.25"/>
<rect x="315.52" y="509.68" width="17.4" height="81.32" fill="#fff" stroke="none"/>
<path d="M315.52 513.18L319.02 509.68M315.52 519.38L325.22 509.68M315.52 525.58L331.42 509.68M315.52 531.78L332.92 514.38M315.52 537.98L332.92 520.58M315.52 544.18L332.92 526.78M315.52 550.38L332.92 532.98M315.52 556.58L332.92 539.18M315.52 562.78L332.92 545.38M315.52 568.98L332.92 551.58M315.52 575.18L332.92 557.78M315.52 581.38L332.92 563.98M315.52 587.58L332.92 570.18M318.3 591L332.92 576.38M324.5 591L332.92 582.58M330.7 591L332.92 588.78" stroke-width="1.3"/>
<rect x="315.52" y="509.68" width="17.4" height="81.32" stroke-width="1.25"/>
<rect x="346.38" y="419.96" width="17.4" height="171.04" fill="#fff" stroke="none"/>
<path d="M346.38 420.32L346.74 419.96M346.38 426.52L352.94 419.96M346.38 432.72L359.14 419.96M346.38 438.92L363.78 421.52M346.38 445.12L363.78 427.72M346.38 451.32L363.78 433.92M346.38 457.52L363.78 440.12M346.38 463.72L363.78 446.32M346.38 469.92L363.78 452.52M346.38 476.12L363.78 458.72M346.38 482.32L363.78 464.92M346.38 488.52L363.78 471.12M346.38 494.72L363.78 477.32M346.38 500.92L363.78 483.52M346.38 507.12L363.78 489.72M346.38 513.32L363.78 495.92M346.38 519.52L363.78 502.12M346.38 525.72L363.78 508.32M346.38 531.92L363.78 514.52M346.38 538.12L363.78 520.72M346.38 544.32L363.78 526.92M346.38 550.52L363.78 533.12M346.38 556.72L363.78 539.32M346.38 562.92L363.78 545.52M346.38 569.12L363.78 551.72M346.38 575.32L363.78 557.92M346.38 581.52L363.78 564.12M346.38 587.72L363.78 570.32M349.3 591L363.78 576.52M355.5 591L363.78 582.72M361.7 591L363.78 588.92" stroke-width="1.3"/>
<rect x="346.38" y="419.96" width="17.4" height="171.04" stroke-width="1.25"/>
<rect x="377.24" y="535.27" width="17.4" height="55.73" fill="#fff" stroke="none"/>
<path d="M377.24 538.26L380.23 535.27M377.24 544.46L386.43 535.27M377.24 550.66L392.63 535.27M377.24 556.86L394.64 539.46M377.24 563.06L394.64 545.66M377.24 569.26L394.64 551.86M377.24 575.46L394.64 558.06M377.24 581.66L394.64 564.26M377.24 587.86L394.64 570.46M380.3 591L394.64 576.66M386.5 591L394.64 582.86M392.7 591L394.64 589.06" stroke-width="1.3"/>
<rect x="377.24" y="535.27" width="17.4" height="55.73" stroke-width="1.25"/>
<line x1="108.2" y1="524.58" x2="108.2" y2="533.34" stroke-width="1.15"/>
<line x1="104" y1="524.58" x2="112.4" y2="524.58" stroke-width="1.15"/>
<line x1="104" y1="533.34" x2="112.4" y2="533.34" stroke-width="1.15"/>
<line x1="139.06" y1="525.46" x2="139.06" y2="549.29" stroke-width="1.15"/>
<line x1="134.86" y1="525.46" x2="143.26" y2="525.46" stroke-width="1.15"/>
<line x1="134.86" y1="549.29" x2="143.26" y2="549.29" stroke-width="1.15"/>
<line x1="169.92" y1="550.52" x2="169.92" y2="563.84" stroke-width="1.15"/>
<line x1="165.72" y1="550.52" x2="174.12" y2="550.52" stroke-width="1.15"/>
<line x1="165.72" y1="563.84" x2="174.12" y2="563.84" stroke-width="1.15"/>
<line x1="200.78" y1="538.42" x2="200.78" y2="553.85" stroke-width="1.15"/>
<line x1="196.58" y1="538.42" x2="204.98" y2="538.42" stroke-width="1.15"/>
<line x1="196.58" y1="553.85" x2="204.98" y2="553.85" stroke-width="1.15"/>
<line x1="231.64" y1="522.48" x2="231.64" y2="540.7" stroke-width="1.15"/>
<line x1="227.44" y1="522.48" x2="235.84" y2="522.48" stroke-width="1.15"/>
<line x1="227.44" y1="540.7" x2="235.84" y2="540.7" stroke-width="1.15"/>
<line x1="262.5" y1="529.66" x2="262.5" y2="537.37" stroke-width="1.15"/>
<line x1="258.3" y1="529.66" x2="266.7" y2="529.66" stroke-width="1.15"/>
<line x1="258.3" y1="537.37" x2="266.7" y2="537.37" stroke-width="1.15"/>
<line x1="293.36" y1="520.55" x2="293.36" y2="533.87" stroke-width="1.15"/>
<line x1="289.16" y1="520.55" x2="297.56" y2="520.55" stroke-width="1.15"/>
<line x1="289.16" y1="533.87" x2="297.56" y2="533.87" stroke-width="1.15"/>
<line x1="324.22" y1="496.72" x2="324.22" y2="522.65" stroke-width="1.15"/>
<line x1="320.02" y1="496.72" x2="328.42" y2="496.72" stroke-width="1.15"/>
<line x1="320.02" y1="522.65" x2="328.42" y2="522.65" stroke-width="1.15"/>
<line x1="355.08" y1="391.22" x2="355.08" y2="448.7" stroke-width="1.15"/>
<line x1="350.88" y1="391.22" x2="359.28" y2="391.22" stroke-width="1.15"/>
<line x1="350.88" y1="448.7" x2="359.28" y2="448.7" stroke-width="1.15"/>
<line x1="385.94" y1="530.36" x2="385.94" y2="540.18" stroke-width="1.15"/>
<line x1="381.74" y1="530.36" x2="390.14" y2="530.36" stroke-width="1.15"/>
<line x1="381.74" y1="540.18" x2="390.14" y2="540.18" stroke-width="1.15"/>
<line x1="108.2" y1="543.35" x2="108.2" y2="563.97" stroke-width="1.15"/>
<line x1="104" y1="543.35" x2="112.4" y2="543.35" stroke-width="1.15"/>
<line x1="104" y1="563.97" x2="112.4" y2="563.97" stroke-width="1.15"/>
<circle cx="108.2" cy="553.66" r="3.7" fill="#0a0a0a" stroke="none"/>
<line x1="139.06" y1="541.39" x2="139.06" y2="560.6" stroke-width="1.15"/>
<line x1="134.86" y1="541.39" x2="143.26" y2="541.39" stroke-width="1.15"/>
<line x1="134.86" y1="560.6" x2="143.26" y2="560.6" stroke-width="1.15"/>
<circle cx="139.06" cy="551" r="3.7" fill="#0a0a0a" stroke="none"/>
<line x1="169.92" y1="538.02" x2="169.92" y2="557.22" stroke-width="1.15"/>
<line x1="165.72" y1="538.02" x2="174.12" y2="538.02" stroke-width="1.15"/>
<line x1="165.72" y1="557.22" x2="174.12" y2="557.22" stroke-width="1.15"/>
<circle cx="169.92" cy="547.62" r="3.7" fill="#0a0a0a" stroke="none"/>
<line x1="200.78" y1="553.66" x2="200.78" y2="563.62" stroke-width="1.15"/>
<line x1="196.58" y1="553.66" x2="204.98" y2="553.66" stroke-width="1.15"/>
<line x1="196.58" y1="563.62" x2="204.98" y2="563.62" stroke-width="1.15"/>
<circle cx="200.78" cy="558.64" r="3.7" fill="#0a0a0a" stroke="none"/>
<line x1="231.64" y1="524.22" x2="231.64" y2="539.37" stroke-width="1.15"/>
<line x1="227.44" y1="524.22" x2="235.84" y2="524.22" stroke-width="1.15"/>
<line x1="227.44" y1="539.37" x2="235.84" y2="539.37" stroke-width="1.15"/>
<circle cx="231.64" cy="531.79" r="3.7" fill="#0a0a0a" stroke="none"/>
<line x1="262.5" y1="532.33" x2="262.5" y2="549.39" stroke-width="1.15"/>
<line x1="258.3" y1="532.33" x2="266.7" y2="532.33" stroke-width="1.15"/>
<line x1="258.3" y1="549.39" x2="266.7" y2="549.39" stroke-width="1.15"/>
<circle cx="262.5" cy="540.86" r="3.7" fill="#0a0a0a" stroke="none"/>
<line x1="293.36" y1="526.64" x2="293.36" y2="539.44" stroke-width="1.15"/>
<line x1="289.16" y1="526.64" x2="297.56" y2="526.64" stroke-width="1.15"/>
<line x1="289.16" y1="539.44" x2="297.56" y2="539.44" stroke-width="1.15"/>
<circle cx="293.36" cy="533.04" r="3.7" fill="#0a0a0a" stroke="none"/>
<line x1="324.22" y1="526.64" x2="324.22" y2="532.33" stroke-width="1.15"/>
<line x1="320.02" y1="526.64" x2="328.42" y2="526.64" stroke-width="1.15"/>
<line x1="320.02" y1="532.33" x2="328.42" y2="532.33" stroke-width="1.15"/>
<circle cx="324.22" cy="529.48" r="3.7" fill="#0a0a0a" stroke="none"/>
<line x1="355.08" y1="411.07" x2="355.08" y2="482.9" stroke-width="1.15"/>
<line x1="350.88" y1="411.07" x2="359.28" y2="411.07" stroke-width="1.15"/>
<line x1="350.88" y1="482.9" x2="359.28" y2="482.9" stroke-width="1.15"/>
<circle cx="355.08" cy="446.98" r="3.7" fill="#0a0a0a" stroke="none"/>
<line x1="385.94" y1="524.5" x2="385.94" y2="532.33" stroke-width="1.15"/>
<line x1="381.74" y1="524.5" x2="390.14" y2="524.5" stroke-width="1.15"/>
<line x1="381.74" y1="532.33" x2="390.14" y2="532.33" stroke-width="1.15"/>
<circle cx="385.94" cy="528.41" r="3.7" fill="#0a0a0a" stroke="none"/>
<line x1="370.5" y1="591" x2="370.5" y2="380.9" stroke-width="1.15" stroke-dasharray="11.6 10.75" stroke-dashoffset="-0.5"/>
<rect x="92.6" y="380.9" width="308.3" height="210.1" fill="none" stroke-width="1.25"/>
<g transform="translate(86.6,596.2)">
<text x="-7.05" y="0" font-size="14.1">0</text>
</g>
<line x1="92.6" y1="555.95" x2="96" y2="555.95" stroke-width="1"/>
<g transform="translate(86.6,561.15)">
<text x="-21.15" y="0" font-size="14.1">100</text>
</g>
<line x1="92.6" y1="520.9" x2="96" y2="520.9" stroke-width="1"/>
<g transform="translate(86.6,526.1)">
<text x="-21.15" y="0" font-size="14.1">200</text>
</g>
<line x1="92.6" y1="485.85" x2="96" y2="485.85" stroke-width="1"/>
<g transform="translate(86.6,491.05)">
<text x="-21.15" y="0" font-size="14.1">300</text>
</g>
<line x1="92.6" y1="450.8" x2="96" y2="450.8" stroke-width="1"/>
<g transform="translate(86.6,456)">
<text x="-21.15" y="0" font-size="14.1">400</text>
</g>
<line x1="92.6" y1="415.75" x2="96" y2="415.75" stroke-width="1"/>
<g transform="translate(86.6,420.95)">
<text x="-21.15" y="0" font-size="14.1">500</text>
</g>
<g transform="translate(86.6,385.9)">
<text x="-21.15" y="0" font-size="14.1">600</text>
</g>
<g transform="translate(406.7,595.8)">
<text x="0" y="0" font-size="14.1">0</text>
</g>
<line x1="396.5" y1="555.44" x2="400.9" y2="555.44" stroke-width="1"/>
<g transform="translate(406.7,560.24)">
<text x="0" y="0" font-size="14.1">100</text>
</g>
<line x1="396.5" y1="519.88" x2="400.9" y2="519.88" stroke-width="1"/>
<g transform="translate(406.7,524.68)">
<text x="0" y="0" font-size="14.1">200</text>
</g>
<line x1="396.5" y1="484.32" x2="400.9" y2="484.32" stroke-width="1"/>
<g transform="translate(406.7,489.12)">
<text x="0" y="0" font-size="14.1">300</text>
</g>
<line x1="396.5" y1="448.76" x2="400.9" y2="448.76" stroke-width="1"/>
<g transform="translate(406.7,453.56)">
<text x="0" y="0" font-size="14.1">400</text>
</g>
<line x1="396.5" y1="413.2" x2="400.9" y2="413.2" stroke-width="1"/>
<g transform="translate(406.7,418)">
<text x="0" y="0" font-size="14.1">500</text>
</g>
<g transform="translate(107.1,607.8)">
<text x="-8.81" y="0" font-size="14.1">1.2</text>
</g>
<g transform="translate(137.96,607.8)">
<text x="-8.81" y="0" font-size="14.1">2.4</text>
</g>
<g transform="translate(168.82,607.8)">
<text x="-8.81" y="0" font-size="14.1">3.6</text>
</g>
<g transform="translate(199.68,607.8)">
<text x="-8.81" y="0" font-size="14.1">5.4</text>
</g>
<g transform="translate(230.54,607.8)">
<text x="-8.81" y="0" font-size="14.1">7.0</text>
</g>
<g transform="translate(261.4,607.8)">
<text x="-8.81" y="0" font-size="14.1">8.0</text>
</g>
<g transform="translate(292.26,607.8)">
<text x="-8.81" y="0" font-size="14.1">9.0</text>
</g>
<g transform="translate(323.12,607.8)">
<text x="-8.81" y="0" font-size="14.1">9.6</text>
</g>
<g transform="translate(353.98,607.8)">
<text x="-12.34" y="0" font-size="14.1">10.2</text>
</g>
<g transform="translate(384.84,607.8)">
<text x="-8.81" y="0" font-size="14.1">9.6</text>
</g>
<g transform="translate(251.2,629.8)">
<text x="-55.23" y="0" font-size="14.67">OLR/(g</text>
<circle cx="-3.79" cy="-3.45" r="1.25" fill="#0a0a0a" stroke="none"/>
<text x="2.01" y="0" font-size="14.67">(L</text>
<circle cx="22.45" cy="-3.45" r="1.25" fill="#0a0a0a" stroke="none"/>
<text x="29.05" y="0" font-size="14.67">d)</text>
<text x="41.57" y="-5.87" font-size="7.78">−1</text>
<text x="50.34" y="0" font-size="14.67">)</text>
</g>
<g transform="translate(181,656.6)">
<text x="0" y="1.49" font-size="14.85">（</text>
<text x="14.45" y="0" font-size="14.67">c</text>
<text x="23.36" y="1.49" font-size="14.85">）</text>
<text x="33.01" y="0" font-size="14.67">COD</text>
<text x="63.98" y="1.49" font-size="14.85">和</text>
<text x="78.83" y="0" font-size="14.67">TVFA</text>
</g>
<g transform="translate(249,376)">
<text x="-44.55" y="1.49" font-size="14.85">逐级提升负荷</text>
</g>
<g transform="translate(385.5,354.2)">
<text x="-22.27" y="1.49" font-size="14.85">重新稳</text>
</g>
<g transform="translate(385.5,371.5)">
<text x="-22.27" y="1.49" font-size="14.85">定负荷</text>
</g>
<rect x="120.6" y="416.8" width="28.3" height="13.3" fill="#fff" stroke="none"/>
<path d="M120.6 422.9L126.7 416.8M120.6 429.1L132.9 416.8M125.8 430.1L139.1 416.8M132 430.1L145.3 416.8M138.2 430.1L148.9 419.4M144.4 430.1L148.9 425.6" stroke-width="1.3"/>
<rect x="120.6" y="416.8" width="28.3" height="13.3" stroke-width="1.25"/>
<g transform="translate(152.7,428.5)">
<text x="0" y="1.49" font-size="14.85">出水</text>
<text x="29.7" y="0" font-size="14.67">COD</text>
</g>
<circle cx="225.2" cy="423.9" r="3.7" fill="#0a0a0a" stroke="none"/>
<g transform="translate(243.5,428.5)">
<text x="0" y="0" font-size="14.67">TVFA</text>
</g>
<g transform="translate(48.5,478.6) rotate(-90)">
<text x="-46.94" y="0" font-size="14.25">COD/(mg</text>
<circle cx="17.36" cy="-3.35" r="1.25" fill="#0a0a0a" stroke="none"/>
<text x="24.66" y="0" font-size="14.25">L</text>
<text x="33.66" y="-5.7" font-size="7.55">−1</text>
<text x="42.2" y="0" font-size="14.25">)</text>
</g>
<g transform="translate(447.9,487.2) rotate(-90)">
<text x="-50.51" y="0" font-size="14.25">TVFA/(mg</text>
<circle cx="20.92" cy="-3.35" r="1.25" fill="#0a0a0a" stroke="none"/>
<text x="28.22" y="0" font-size="14.25">L</text>
<text x="37.22" y="-5.7" font-size="7.55">−1</text>
<text x="45.76" y="0" font-size="14.25">)</text>
</g>
<rect x="534.7" y="540.46" width="17.4" height="50.74" fill="#fff" stroke="none"/>
<path d="M534.7 547.55L541.79 540.46M534.7 555.95L550.19 540.46M534.7 564.35L552.1 546.95M534.7 572.75L552.1 555.35M534.7 581.15L552.1 563.75M534.7 589.55L552.1 572.15M541.45 591.2L552.1 580.55M549.85 591.2L552.1 588.95" stroke-width="1.15"/>
<rect x="534.7" y="540.46" width="17.4" height="50.74" stroke-width="1.25"/>
<rect x="565.44" y="550.37" width="17.4" height="40.83" fill="#fff" stroke="none"/>
<path d="M565.44 558.81L573.88 550.37M565.44 567.21L582.28 550.37M565.44 575.61L582.84 558.21M565.44 584.01L582.84 566.61M566.65 591.2L582.84 575.01M575.05 591.2L582.84 583.41" stroke-width="1.15"/>
<rect x="565.44" y="550.37" width="17.4" height="40.83" stroke-width="1.25"/>
<rect x="596.18" y="552.87" width="17.4" height="38.33" fill="#fff" stroke="none"/>
<path d="M596.18 553.27L596.58 552.87M596.18 561.67L604.98 552.87M596.18 570.07L613.38 552.87M596.18 578.47L613.58 561.07M596.18 586.87L613.58 569.47M600.25 591.2L613.58 577.87M608.65 591.2L613.58 586.27" stroke-width="1.15"/>
<rect x="596.18" y="552.87" width="17.4" height="38.33" stroke-width="1.25"/>
<rect x="626.92" y="537.49" width="17.4" height="53.71" fill="#fff" stroke="none"/>
<path d="M626.92 539.33L628.76 537.49M626.92 547.73L637.16 537.49M626.92 556.13L644.32 538.73M626.92 564.53L644.32 547.13M626.92 572.93L644.32 555.53M626.92 581.33L644.32 563.93M626.92 589.73L644.32 572.33M633.85 591.2L644.32 580.73M642.25 591.2L644.32 589.13" stroke-width="1.15"/>
<rect x="626.92" y="537.49" width="17.4" height="53.71" stroke-width="1.25"/>
<rect x="626.92" y="536.22" width="17.4" height="1.27" fill="#fff" stroke="none"/>
<path d="M633.51 537.49L634.78 536.22M642.11 537.49L643.38 536.22" stroke-width="1.1"/>
<path d="M642.42 536.22L643.69 537.49M633.82 536.22L635.09 537.49" stroke-width="1.1"/>
<rect x="626.92" y="536.22" width="17.4" height="1.27" stroke-width="1.25"/>
<rect x="657.66" y="532.41" width="17.4" height="58.79" fill="#fff" stroke="none"/>
<path d="M657.66 533.79L659.04 532.41M657.66 542.19L667.44 532.41M657.66 550.59L675.06 533.19M657.66 558.99L675.06 541.59M657.66 567.39L675.06 549.99M657.66 575.79L675.06 558.39M657.66 584.19L675.06 566.79M659.05 591.2L675.06 575.19M667.45 591.2L675.06 583.59" stroke-width="1.15"/>
<rect x="657.66" y="532.41" width="17.4" height="58.79" stroke-width="1.25"/>
<rect x="657.66" y="531.56" width="17.4" height="0.85" fill="#fff" stroke="none"/>
<path d="M664.39 532.41L665.24 531.56M672.99 532.41L673.84 531.56" stroke-width="1.1"/>
<path d="M672.16 531.56L673.01 532.41M663.56 531.56L664.41 532.41" stroke-width="1.1"/>
<rect x="657.66" y="531.56" width="17.4" height="0.85" stroke-width="1.25"/>
<rect x="688.4" y="531.56" width="17.4" height="59.64" fill="#fff" stroke="none"/>
<path d="M688.4 536.65L693.49 531.56M688.4 545.05L701.89 531.56M688.4 553.45L705.8 536.05M688.4 561.85L705.8 544.45M688.4 570.25L705.8 552.85M688.4 578.65L705.8 561.25M688.4 587.05L705.8 569.65M692.65 591.2L705.8 578.05M701.05 591.2L705.8 586.45" stroke-width="1.15"/>
<rect x="688.4" y="531.56" width="17.4" height="59.64" stroke-width="1.25"/>
<rect x="688.4" y="528.18" width="17.4" height="3.39" fill="#fff" stroke="none"/>
<path d="M691.04 531.56L694.43 528.18M699.64 531.56L703.02 528.18" stroke-width="1.1"/>
<path d="M703.18 528.18L705.8 530.8M694.58 528.17L697.96 531.56M688.4 530.6L689.36 531.56" stroke-width="1.1"/>
<rect x="688.4" y="528.18" width="17.4" height="3.39" stroke-width="1.25"/>
<rect x="688.4" y="527.75" width="17.4" height="0.42" fill="#fff" stroke="none"/>
<rect x="688.4" y="527.75" width="17.4" height="0.42" stroke-width="1.25"/>
<rect x="719.14" y="528.39" width="17.4" height="62.81" fill="#fff" stroke="none"/>
<path d="M719.14 531.11L721.86 528.39M719.14 539.51L730.26 528.39M719.14 547.91L736.54 530.51M719.14 556.31L736.54 538.91M719.14 564.71L736.54 547.31M719.14 573.11L736.54 555.71M719.14 581.51L736.54 564.11M719.14 589.91L736.54 572.51M726.25 591.2L736.54 580.91M734.65 591.2L736.54 589.31" stroke-width="1.15"/>
<rect x="719.14" y="528.39" width="17.4" height="62.81" stroke-width="1.25"/>
<rect x="719.14" y="526.69" width="17.4" height="1.69" fill="#fff" stroke="none"/>
<path d="M720.01 528.39L721.71 526.69M728.61 528.39L730.31 526.69" stroke-width="1.1"/>
<path d="M736.09 526.69L736.54 527.14M727.49 526.69L729.19 528.39M719.14 526.94L720.59 528.39" stroke-width="1.1"/>
<rect x="719.14" y="526.69" width="17.4" height="1.69" stroke-width="1.25"/>
<rect x="719.14" y="526.48" width="17.4" height="0.21" fill="#fff" stroke="none"/>
<rect x="719.14" y="526.48" width="17.4" height="0.21" stroke-width="1.25"/>
<rect x="749.88" y="514.41" width="17.4" height="76.79" fill="#fff" stroke="none"/>
<path d="M749.88 517.17L752.64 514.41M749.88 525.57L761.04 514.41M749.88 533.97L767.28 516.57M749.88 542.37L767.28 524.97M749.88 550.77L767.28 533.37M749.88 559.17L767.28 541.77M749.88 567.57L767.28 550.17M749.88 575.97L767.28 558.57M749.88 584.37L767.28 566.97M751.45 591.2L767.28 575.37M759.85 591.2L767.28 583.77" stroke-width="1.15"/>
<rect x="749.88" y="514.41" width="17.4" height="76.79" stroke-width="1.25"/>
<rect x="749.88" y="509.33" width="17.4" height="5.08" fill="#fff" stroke="none"/>
<path d="M751.19 514.41L756.27 509.33M759.79 514.41L764.87 509.33" stroke-width="1.1"/>
<path d="M761.73 509.33L766.81 514.41M753.13 509.33L758.21 514.41" stroke-width="1.1"/>
<rect x="749.88" y="509.33" width="17.4" height="5.08" stroke-width="1.25"/>
<rect x="749.88" y="508.91" width="17.4" height="0.42" fill="#fff" stroke="none"/>
<rect x="749.88" y="508.91" width="17.4" height="0.42" stroke-width="1.25"/>
<rect x="780.62" y="436.49" width="17.4" height="154.71" fill="#fff" stroke="none"/>
<path d="M780.62 444.43L788.56 436.49M780.62 452.83L796.96 436.49M780.62 461.23L798.02 443.83M780.62 469.63L798.02 452.23M780.62 478.03L798.02 460.63M780.62 486.43L798.02 469.03M780.62 494.83L798.02 477.43M780.62 503.23L798.02 485.83M780.62 511.63L798.02 494.23M780.62 520.03L798.02 502.63M780.62 528.43L798.02 511.03M780.62 536.83L798.02 519.43M780.62 545.23L798.02 527.83M780.62 553.63L798.02 536.23M780.62 562.03L798.02 544.63M780.62 570.43L798.02 553.03M780.62 578.83L798.02 561.43M780.62 587.23L798.02 569.83M785.05 591.2L798.02 578.23M793.45 591.2L798.02 586.63" stroke-width="1.15"/>
<rect x="780.62" y="436.49" width="17.4" height="154.71" stroke-width="1.25"/>
<rect x="780.62" y="414.68" width="17.4" height="21.81" fill="#fff" stroke="none"/>
<path d="M780.62 416.18L782.12 414.68M780.62 424.78L790.72 414.68M780.62 433.38L798.02 415.98M786.11 436.49L798.02 424.58M794.71 436.49L798.02 433.18" stroke-width="1.1"/>
<path d="M796.08 414.68L798.02 416.62M787.48 414.68L798.02 425.22M780.62 416.42L798.02 433.82M780.62 425.02L792.09 436.49M780.62 433.62L783.49 436.49" stroke-width="1.1"/>
<rect x="780.62" y="414.68" width="17.4" height="21.81" stroke-width="1.25"/>
<rect x="780.62" y="401.63" width="17.4" height="13.04" fill="#fff" stroke="none"/>
<rect x="780.62" y="401.63" width="17.4" height="13.04" stroke-width="1.25"/>
<rect x="811.36" y="522.12" width="17.4" height="69.08" fill="#fff" stroke="none"/>
<path d="M811.36 522.89L812.13 522.12M811.36 531.29L820.53 522.12M811.36 539.69L828.76 522.29M811.36 548.09L828.76 530.69M811.36 556.49L828.76 539.09M811.36 564.89L828.76 547.49M811.36 573.29L828.76 555.89M811.36 581.69L828.76 564.29M811.36 590.09L828.76 572.69M818.65 591.2L828.76 581.09M827.05 591.2L828.76 589.49" stroke-width="1.15"/>
<rect x="811.36" y="522.12" width="17.4" height="69.08" stroke-width="1.25"/>
<rect x="811.36" y="518.86" width="17.4" height="3.26" fill="#fff" stroke="none"/>
<path d="M812.28 522.12L815.54 518.86M820.88 522.12L824.14 518.86" stroke-width="1.1"/>
<path d="M822.86 518.86L826.12 522.12M814.26 518.86L817.52 522.12" stroke-width="1.1"/>
<rect x="811.36" y="518.86" width="17.4" height="3.26" stroke-width="1.25"/>
<rect x="811.36" y="518.6" width="17.4" height="0.25" fill="#fff" stroke="none"/>
<rect x="811.36" y="518.6" width="17.4" height="0.25" stroke-width="1.25"/>
<line x1="543.4" y1="528.34" x2="543.4" y2="552.74" stroke-width="1.15"/>
<line x1="539.2" y1="528.34" x2="547.6" y2="528.34" stroke-width="1.15"/>
<line x1="539.2" y1="552.74" x2="547.6" y2="552.74" stroke-width="1.15"/>
<line x1="574.14" y1="542.87" x2="574.14" y2="557.82" stroke-width="1.15"/>
<line x1="569.94" y1="542.87" x2="578.34" y2="542.87" stroke-width="1.15"/>
<line x1="569.94" y1="557.82" x2="578.34" y2="557.82" stroke-width="1.15"/>
<line x1="604.88" y1="546.6" x2="604.88" y2="559.64" stroke-width="1.15"/>
<line x1="600.68" y1="546.6" x2="609.08" y2="546.6" stroke-width="1.15"/>
<line x1="600.68" y1="559.64" x2="609.08" y2="559.64" stroke-width="1.15"/>
<line x1="635.62" y1="522.84" x2="635.62" y2="552.31" stroke-width="1.15"/>
<line x1="631.42" y1="522.84" x2="639.82" y2="522.84" stroke-width="1.15"/>
<line x1="631.42" y1="552.31" x2="639.82" y2="552.31" stroke-width="1.15"/>
<line x1="666.36" y1="521.57" x2="666.36" y2="543.42" stroke-width="1.15"/>
<line x1="662.16" y1="521.57" x2="670.56" y2="521.57" stroke-width="1.15"/>
<line x1="662.16" y1="543.42" x2="670.56" y2="543.42" stroke-width="1.15"/>
<line x1="697.1" y1="521.82" x2="697.1" y2="541.73" stroke-width="1.15"/>
<line x1="692.9" y1="521.82" x2="701.3" y2="521.82" stroke-width="1.15"/>
<line x1="692.9" y1="541.73" x2="701.3" y2="541.73" stroke-width="1.15"/>
<line x1="727.84" y1="524.79" x2="727.84" y2="530.29" stroke-width="1.15"/>
<line x1="723.64" y1="524.79" x2="732.04" y2="524.79" stroke-width="1.15"/>
<line x1="723.64" y1="530.29" x2="732.04" y2="530.29" stroke-width="1.15"/>
<line x1="758.58" y1="491.08" x2="758.58" y2="539.61" stroke-width="1.15"/>
<line x1="754.38" y1="491.08" x2="762.78" y2="491.08" stroke-width="1.15"/>
<line x1="754.38" y1="539.61" x2="762.78" y2="539.61" stroke-width="1.15"/>
<line x1="820.06" y1="515.89" x2="820.06" y2="529.02" stroke-width="1.15"/>
<line x1="815.86" y1="515.89" x2="824.26" y2="515.89" stroke-width="1.15"/>
<line x1="815.86" y1="529.02" x2="824.26" y2="529.02" stroke-width="1.15"/>
<line x1="789.32" y1="399.2" x2="789.32" y2="404.6" stroke-width="1.15"/>
<line x1="785.12" y1="399.2" x2="793.52" y2="399.2" stroke-width="1.15"/>
<line x1="785.12" y1="404.6" x2="793.52" y2="404.6" stroke-width="1.15"/>
<line x1="789.32" y1="409.9" x2="789.32" y2="424.3" stroke-width="1.15"/>
<line x1="785.12" y1="409.9" x2="793.52" y2="409.9" stroke-width="1.15"/>
<line x1="785.12" y1="424.3" x2="793.52" y2="424.3" stroke-width="1.15"/>
<line x1="789.32" y1="425" x2="789.32" y2="447.4" stroke-width="1.15"/>
<line x1="785.12" y1="425" x2="793.52" y2="425" stroke-width="1.15"/>
<line x1="785.12" y1="447.4" x2="793.52" y2="447.4" stroke-width="1.15"/>
<line x1="804.8" y1="591.2" x2="804.8" y2="379.5" stroke-width="1.15" stroke-dasharray="11.6 10.75" stroke-dashoffset="-0.7"/>
<line x1="835.3" y1="591.2" x2="835.3" y2="379.5" stroke-width="1.15" stroke-dasharray="11.6 10.75" stroke-dashoffset="-0.7"/>
<line x1="528.1" y1="378.88" x2="528.1" y2="591.83" stroke-width="1.25"/>
<line x1="528.1" y1="591.2" x2="835.3" y2="591.2" stroke-width="1.25"/>
<g transform="translate(522,596.4)">
<text x="-7.05" y="0" font-size="14.1">0</text>
</g>
<line x1="528.1" y1="549.35" x2="532.3" y2="549.35" stroke-width="1"/>
<g transform="translate(522,554.05)">
<text x="-21.15" y="0" font-size="14.1">100</text>
</g>
<line x1="528.1" y1="507" x2="532.3" y2="507" stroke-width="1"/>
<g transform="translate(522,511.7)">
<text x="-21.15" y="0" font-size="14.1">200</text>
</g>
<line x1="528.1" y1="464.65" x2="532.3" y2="464.65" stroke-width="1"/>
<g transform="translate(522,469.35)">
<text x="-21.15" y="0" font-size="14.1">300</text>
</g>
<line x1="528.1" y1="422.3" x2="532.3" y2="422.3" stroke-width="1"/>
<g transform="translate(522,427)">
<text x="-21.15" y="0" font-size="14.1">400</text>
</g>
<line x1="528.1" y1="379.95" x2="532.3" y2="379.95" stroke-width="1"/>
<g transform="translate(522,384.65)">
<text x="-21.15" y="0" font-size="14.1">500</text>
</g>
<g transform="translate(542.3,607.8)">
<text x="-8.81" y="0" font-size="14.1">1.2</text>
</g>
<g transform="translate(573.04,607.8)">
<text x="-8.81" y="0" font-size="14.1">2.4</text>
</g>
<g transform="translate(603.78,607.8)">
<text x="-8.81" y="0" font-size="14.1">3.6</text>
</g>
<g transform="translate(634.52,607.8)">
<text x="-8.81" y="0" font-size="14.1">5.4</text>
</g>
<g transform="translate(665.26,607.8)">
<text x="-8.81" y="0" font-size="14.1">7.0</text>
</g>
<g transform="translate(696,607.8)">
<text x="-8.81" y="0" font-size="14.1">8.0</text>
</g>
<g transform="translate(726.74,607.8)">
<text x="-8.81" y="0" font-size="14.1">9.0</text>
</g>
<g transform="translate(757.48,607.8)">
<text x="-8.81" y="0" font-size="14.1">9.6</text>
</g>
<g transform="translate(788.22,607.8)">
<text x="-12.34" y="0" font-size="14.1">10.2</text>
</g>
<g transform="translate(818.96,607.8)">
<text x="-8.81" y="0" font-size="14.1">9.6</text>
</g>
<g transform="translate(688,630)">
<text x="-55.23" y="0" font-size="14.67">OLR/(g</text>
<circle cx="-3.79" cy="-3.45" r="1.25" fill="#0a0a0a" stroke="none"/>
<text x="2.01" y="0" font-size="14.67">(L</text>
<circle cx="22.45" cy="-3.45" r="1.25" fill="#0a0a0a" stroke="none"/>
<text x="29.05" y="0" font-size="14.67">d)</text>
<text x="41.57" y="-5.87" font-size="7.78">−1</text>
<text x="50.34" y="0" font-size="14.67">)</text>
</g>
<g transform="translate(648.4,657)">
<text x="0" y="1.49" font-size="14.85">（</text>
<text x="14.45" y="0" font-size="14.67">d</text>
<text x="24.18" y="1.49" font-size="14.85">）</text>
<text x="33.83" y="0" font-size="14.67">VFAs</text>
</g>
<g transform="translate(667,376)">
<text x="-44.55" y="1.49" font-size="14.85">逐级提升负荷</text>
</g>
<g transform="translate(820.5,355.5)">
<text x="-22.27" y="1.49" font-size="14.85">重新稳</text>
</g>
<g transform="translate(820.5,372.8)">
<text x="-22.27" y="1.49" font-size="14.85">定负荷</text>
</g>
<rect x="580.4" y="422.1" width="24.4" height="11.8" fill="#fff" stroke="none"/>
<path d="M580.4 426.25L584.55 422.1M581.15 433.9L592.95 422.1M589.55 433.9L601.35 422.1M597.95 433.9L604.8 427.05" stroke-width="1.15"/>
<rect x="580.4" y="422.1" width="24.4" height="11.8" stroke-width="1.3"/>
<g transform="translate(612,432.4)">
<text x="0" y="1.44" font-size="14.4">乙酸</text>
</g>
<rect x="580.4" y="435.85" width="24.4" height="11.8" fill="#fff" stroke="none"/>
<path d="M580.4 444.4L588.95 435.85M585.75 447.65L597.55 435.85M594.35 447.65L604.8 437.2M602.95 447.65L604.8 445.8" stroke-width="1.1"/>
<path d="M602.25 435.85L604.8 438.4M593.65 435.85L604.8 447M585.05 435.85L596.85 447.65M580.4 439.8L588.25 447.65" stroke-width="1.1"/>
<rect x="580.4" y="435.85" width="24.4" height="11.8" stroke-width="1.3"/>
<g transform="translate(612,446.15)">
<text x="0" y="1.44" font-size="14.4">丙酸</text>
</g>
<rect x="580.4" y="449.6" width="24.4" height="11.8" fill="#fff" stroke="none"/>
<rect x="580.4" y="449.6" width="24.4" height="11.8" stroke-width="1.3"/>
<g transform="translate(612,459.9)">
<text x="0" y="1.44" font-size="14.4">丁酸</text>
</g>
<g transform="translate(483.5,486.6) rotate(-90)">
<text x="-49.65" y="0" font-size="14.5">VFAs/(mg</text>
<circle cx="19.69" cy="-3.41" r="1.25" fill="#0a0a0a" stroke="none"/>
<text x="26.99" y="0" font-size="14.5">L</text>
<text x="36.14" y="-5.8" font-size="7.69">−1</text>
<text x="44.82" y="0" font-size="14.5">)</text>
</g>
</svg>
</body></html>
